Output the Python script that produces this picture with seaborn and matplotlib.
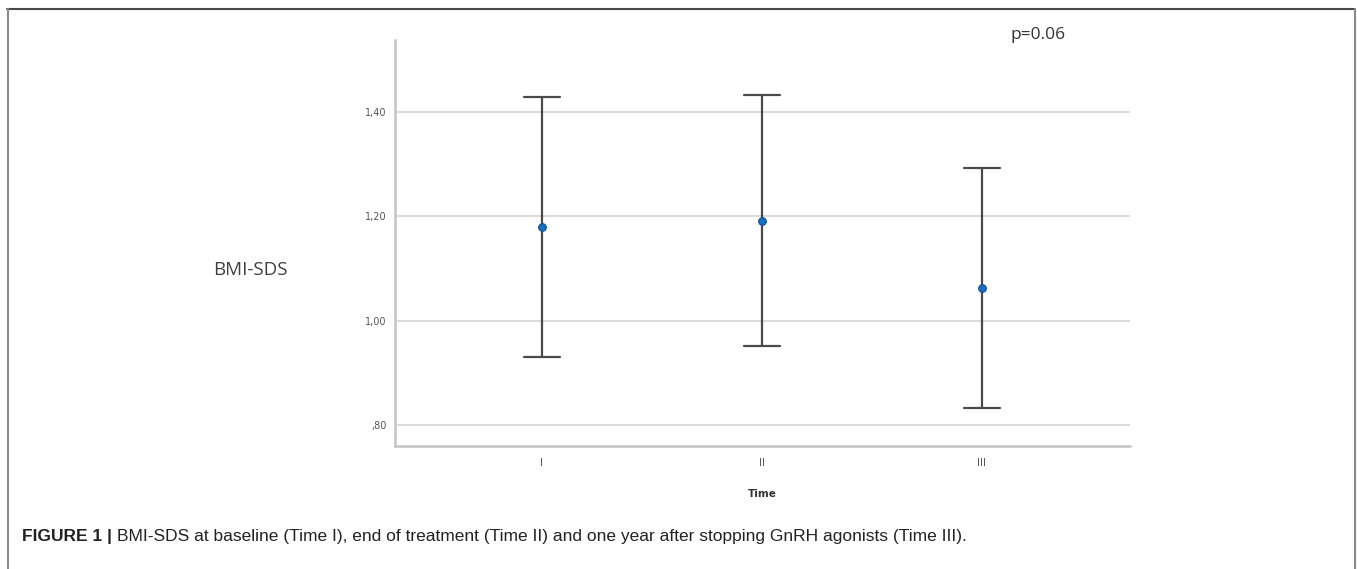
import numpy as np
import pandas as pd
import matplotlib
matplotlib.use("Agg")
import matplotlib.pyplot as plt
import seaborn as sns
from matplotlib.lines import Line2D

# Data
times = ["I", "II", "III"]
means = [1.179, 1.192, 1.063]
lower = [0.931, 0.952, 0.833]
upper = [1.429, 1.433, 1.293]
y_ticks = [0.80, 1.00, 1.20, 1.40]
y_tick_labels = [",80", "1,00", "1,20", "1,40"]

rows = []
for t, lo, m, hi in zip(times, lower, means, upper):
    for v in (lo, m, hi):
        rows.append({"Time": t, "BMI-SDS": v})
df = pd.DataFrame(rows)

sns.set_theme(style="white")
plt.rcParams['font.family'] = ['DejaVu Sans']

W, H = 1357, 569
fig = plt.figure(figsize=(W / 100, H / 100), dpi=100)
ax = fig.add_axes([395 / W, 1 - 446 / H, (1130 - 395) / W, (446 - 40) / H])

for y in y_ticks:
    ax.axhline(y, color="#dcdcdc", lw=1.5, zorder=0)

sns.pointplot(
    data=df, x="Time", y="BMI-SDS", order=times,
    estimator="median", errorbar=lambda v: (v.min(), v.max()),
    linestyle="none", capsize=0.165, color="#4a4a4a",
    err_kws={"linewidth": 1.6, "color": "#4a4a4a"},
    markers="o", ax=ax,
)
# recolour the markers blue
for ln in ax.lines:
    if ln.get_marker() not in (None, "None", "", " "):
        ln.set_markerfacecolor("#1a6fbf")
        ln.set_markeredgecolor("#0d4f8f")
        ln.set_markersize(5.5)
        ln.set_markeredgewidth(0.8)
        ln.set_zorder(5)
for coll in ax.collections:
    coll.set_facecolor("#1a6fbf")
    coll.set_edgecolor("#0d4f8f")

ax.set_xlim(-0.668, 2.673)
ax.set_ylim(0.76, 1.538)
ax.set_yticks(y_ticks)
ax.set_yticklabels(y_tick_labels, fontsize=7, color="#555555")
ax.tick_params(axis="x", labelsize=7.5, colors="#555555", length=0, pad=9)
ax.tick_params(axis="y", length=0, pad=6)
ax.set_xlabel("Time", fontsize=7.5, fontweight="bold", color="#333333", labelpad=15)
ax.set_ylabel("")
for s in ["top", "right"]:
    ax.spines[s].set_visible(False)
for s in ["left", "bottom"]:
    ax.spines[s].set_color("#c4c4c4")
    ax.spines[s].set_linewidth(1.8)
ax.patch.set_alpha(0)

fig.text(250 / W, 1 - 270 / H, "BMI-SDS", fontsize=13.5, color="#404040",
         ha="center", va="center", family=["Open Sans", "DejaVu Sans"])
fig.text(1010 / W, 1 - 35 / H, "p=0.06", fontsize=12.5, color="#333333",
         ha="left", va="center", family=["Open Sans", "DejaVu Sans"])

# frame around the figure panel
fig.add_artist(Line2D([7 / W, 1355 / W], [1 - 8.5 / H, 1 - 8.5 / H],
                      transform=fig.transFigure, color="#4a4a4a", lw=1.5))
fig.add_artist(Line2D([7.5 / W, 7.5 / W], [0, 1 - 8.5 / H],
                      transform=fig.transFigure, color="#8a8a8a", lw=1.5))
fig.add_artist(Line2D([1354.5 / W, 1354.5 / W], [0, 1 - 8.5 / H],
                      transform=fig.transFigure, color="#8a8a8a", lw=1.5))

cap_font = ["Liberation Sans Narrow", "Liberation Sans", "DejaVu Sans"]
t1 = fig.text(22 / W, 1 - 537 / H, "FIGURE 1 |", fontsize=12.5, fontweight="bold",
              color="#222222", ha="left", va="center", family=cap_font)
fig.canvas.draw()
bb = t1.get_window_extent()
fig.text((bb.x1 + 5) / W, 1 - 537 / H,
         "BMI-SDS at baseline (Time I), end of treatment (Time II) and one year after stopping GnRH agonists (Time III).",
         fontsize=12.5, color="#222222", ha="left", va="center", family=cap_font)

fig.savefig("out.png", dpi=100)
